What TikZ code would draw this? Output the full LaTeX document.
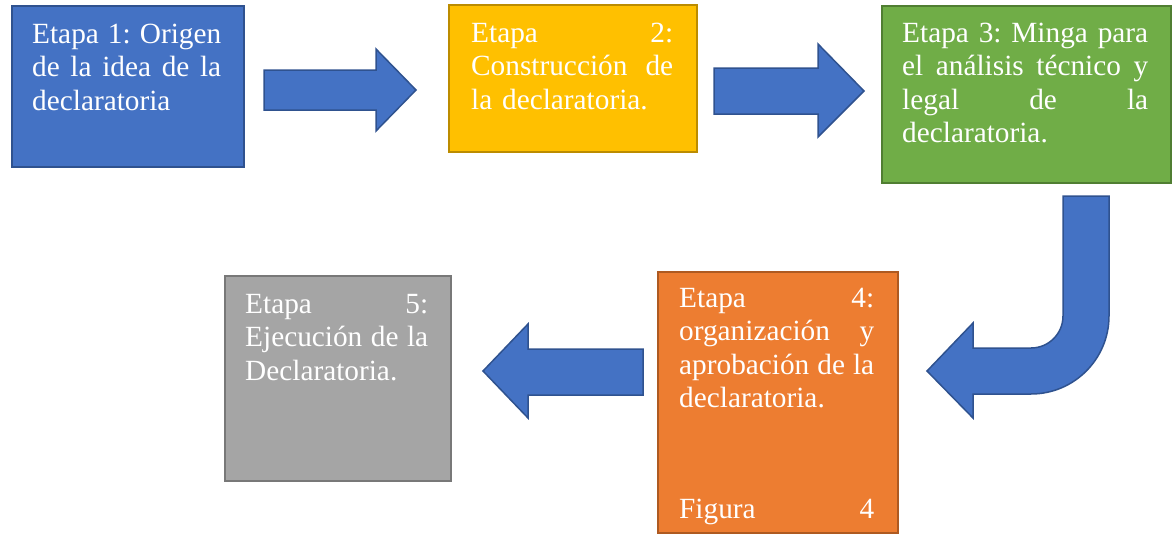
\documentclass[tikz,border=0pt]{standalone}
\usepackage{fontspec}
\setmainfont{Liberation Serif}

\definecolor{azul}{HTML}{4472C4}
\definecolor{azulosc}{HTML}{2F528F}
\definecolor{amarillo}{HTML}{FFC000}
\definecolor{amarillosc}{HTML}{BC8C00}
\definecolor{verde}{HTML}{70AD47}
\definecolor{verdeosc}{HTML}{507E32}
\definecolor{naranja}{HTML}{ED7D31}
\definecolor{naranjaosc}{HTML}{AE5A21}
\definecolor{gris}{HTML}{A5A5A5}
\definecolor{grisosc}{HTML}{787878}

% linea justificada (ancho del texto en \anchoj)
\newcommand{\jl}[1]{\leavevmode\hbox to \anchoj{\spaceskip=.25em plus 1fil\relax #1}}

\begin{document}
\begin{tikzpicture}[x=1pt,y=-1pt,
	caja/.style={draw,line width=1.5pt,anchor=north west,inner sep=0pt},
	texto/.style={anchor=base west,inner sep=0pt,text=white,align=left,text width=#1,
		execute at begin node={\def\anchoj{#1}},font=\fontsize{29.3}{33.5}\selectfont\frenchspacing},
	flecha/.style={draw=azulosc,fill=azul,line width=1.5pt}]
	
	\useasboundingbox (0,0) rectangle (1173,533);
	
	% cajas
	\node[caja,fill=azul,draw=azulosc,minimum width=232pt,minimum height=161pt] (etapa1) at (11,5) {};
	\node[caja,fill=amarillo,draw=amarillosc,minimum width=248pt,minimum height=147pt] (etapa2) at (448,4) {};
	\node[caja,fill=verde,draw=verdeosc,minimum width=289pt,minimum height=177pt] (etapa3) at (881,5) {};
	\node[caja,fill=naranja,draw=naranjaosc,minimum width=240pt,minimum height=261pt] (etapa4) at (657,271) {};
	\node[caja,fill=gris,draw=grisosc,minimum width=226pt,minimum height=205pt] (etapa5) at (224,275) {};
	
	% textos
	\node[texto=189pt] (texto1) at ([xshift=21pt,yshift=-38pt]etapa1.north west)
	{\jl{Etapa 1: Origen}\\ \jl{de la idea de la}\\ declaratoria};
	\node[texto=202pt] (texto2) at ([xshift=23pt,yshift=-38pt]etapa2.north west)
	{\jl{Etapa 2:}\\ \jl{Construcción de}\\ la declaratoria.};
	\node[texto=246pt] (texto3) at ([xshift=21pt,yshift=-37pt]etapa3.north west)
	{\jl{Etapa 3: Minga para}\\ \jl{el análisis técnico y}\\ \jl{legal de la}\\ declaratoria.};
	\node[texto=195pt] (texto4) at ([xshift=22pt,yshift=-36pt]etapa4.north west)
	{\jl{Etapa 4:}\\ \jl{organización y}\\ \jl{aprobación de la}\\ declaratoria.\\[77.5pt] \jl{Figura 4}};
	\node[texto=183pt] (texto5) at ([xshift=21pt,yshift=-38pt]etapa5.north west)
	{\jl{Etapa 5:}\\ \jl{Ejecución de la}\\ Declaratoria.};
	
	% flechas
	\filldraw[flecha] (264,70) -- (376,70) -- (376,49) -- (416,90) -- (376,131) -- (376,110) -- (264,110) -- cycle;
	\filldraw[flecha] (714,68) -- (818,68) -- (818,44) -- (864,91) -- (818,137) -- (818,114) -- (714,114) -- cycle;
	\filldraw[flecha] (1063,196) -- (1109,196) -- (1109,316) arc[start angle=0,end angle=90,radius=78]
		-- (973,394) -- (973,418) -- (927,371) -- (973,323) -- (973,348) -- (1031,348)
		arc[start angle=90,end angle=0,radius=32] -- cycle;
	\filldraw[flecha] (643,349) -- (528,349) -- (528,324) -- (483,371) -- (528,418) -- (528,395) -- (643,395) -- cycle;
	
\end{tikzpicture}
\end{document}
